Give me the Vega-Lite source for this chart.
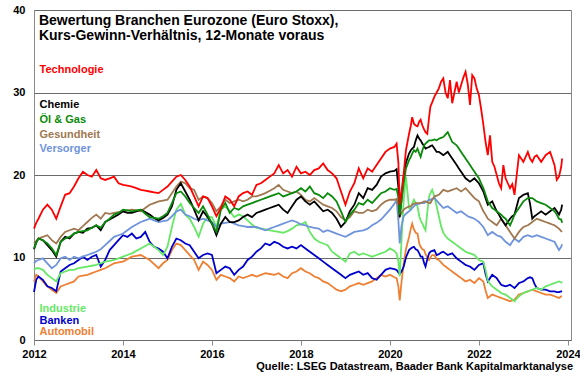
{
  "$schema": "https://vega.github.io/schema/vega-lite/v6.json",
  "width": 537,
  "height": 330,
  "autosize": {"type": "none"},
  "padding": {"left": 34, "top": 10, "right": 9, "bottom": 35},
  "background": "white",
  "config": {
    "font": "Liberation Sans",
    "view": {"stroke": "#8a8a8a", "strokeWidth": 1},
    "axis": {"labelFont": "Liberation Sans"}
  },
  "title": {
    "text": "Quelle: LSEG Datastream, Baader Bank Kapitalmarktanalyse",
    "orient": "bottom",
    "anchor": "end",
    "frame": "group",
    "font": "Liberation Sans",
    "fontSize": 11,
    "fontWeight": "bold",
    "color": "black",
    "offset": 2,
    "dx": 2
  },
  "layer": [
    {
      "data": {
        "values": [
          {"yr": 2012.0, "Technologie": 13.5, "Chemie": 11.0, "Öl & Gas": 11.1, "Gesundheit": 11.7, "Versorger": 9.3, "Industrie": 8.5, "Banken": 5.8, "Automobil": 7.1},
          {"yr": 2012.05, "Technologie": 14.2, "Chemie": 11.8, "Öl & Gas": 11.8, "Gesundheit": 12.0, "Versorger": 9.6, "Industrie": 8.7, "Banken": 7.3, "Automobil": 7.9},
          {"yr": 2012.1, "Technologie": 14.7, "Chemie": 12.3, "Öl & Gas": 12.3, "Gesundheit": 12.3, "Versorger": 9.7, "Industrie": 8.7, "Banken": 7.7, "Automobil": 7.7},
          {"yr": 2012.2, "Technologie": 15.8, "Chemie": 12.1, "Öl & Gas": 12.1, "Gesundheit": 12.5, "Versorger": 9.9, "Industrie": 8.5, "Banken": 7.3, "Automobil": 7.1},
          {"yr": 2012.3, "Technologie": 16.4, "Chemie": 11.5, "Öl & Gas": 11.7, "Gesundheit": 12.7, "Versorger": 9.3, "Industrie": 7.9, "Banken": 6.5, "Automobil": 6.5},
          {"yr": 2012.4, "Technologie": 15.8, "Chemie": 10.9, "Öl & Gas": 11.1, "Gesundheit": 12.1, "Versorger": 8.7, "Industrie": 7.5, "Banken": 6.3, "Automobil": 6.1},
          {"yr": 2012.5, "Technologie": 14.7, "Chemie": 10.1, "Öl & Gas": 10.3, "Gesundheit": 11.7, "Versorger": 9.1, "Industrie": 7.1, "Banken": 5.9, "Automobil": 5.7},
          {"yr": 2012.6, "Technologie": 16.2, "Chemie": 11.9, "Öl & Gas": 11.9, "Gesundheit": 12.5, "Versorger": 9.9, "Industrie": 8.1, "Banken": 8.3, "Automobil": 6.5},
          {"yr": 2012.7, "Technologie": 17.6, "Chemie": 12.5, "Öl & Gas": 12.3, "Gesundheit": 13.1, "Versorger": 10.1, "Industrie": 8.3, "Banken": 8.7, "Automobil": 6.7},
          {"yr": 2012.8, "Technologie": 17.8, "Chemie": 12.3, "Öl & Gas": 12.5, "Gesundheit": 13.3, "Versorger": 9.7, "Industrie": 8.5, "Banken": 9.1, "Automobil": 6.9},
          {"yr": 2012.9, "Technologie": 18.6, "Chemie": 12.9, "Öl & Gas": 12.9, "Gesundheit": 13.5, "Versorger": 10.1, "Industrie": 8.5, "Banken": 9.3, "Automobil": 7.1},
          {"yr": 2013.0, "Technologie": 19.6, "Chemie": 13.1, "Öl & Gas": 13.1, "Gesundheit": 13.3, "Versorger": 9.9, "Industrie": 8.7, "Banken": 9.7, "Automobil": 7.7},
          {"yr": 2013.1, "Technologie": 20.4, "Chemie": 13.0, "Öl & Gas": 13.2, "Gesundheit": 13.8, "Versorger": 10.1, "Industrie": 8.8, "Banken": 10.1, "Automobil": 7.8},
          {"yr": 2013.2, "Technologie": 20.0, "Chemie": 13.5, "Öl & Gas": 13.3, "Gesundheit": 14.3, "Versorger": 10.3, "Industrie": 8.9, "Banken": 9.7, "Automobil": 7.9},
          {"yr": 2013.3, "Technologie": 19.8, "Chemie": 13.6, "Öl & Gas": 13.6, "Gesundheit": 14.8, "Versorger": 10.5, "Industrie": 9.0, "Banken": 10.1, "Automobil": 8.1},
          {"yr": 2013.4, "Technologie": 20.6, "Chemie": 13.9, "Öl & Gas": 13.9, "Gesundheit": 15.2, "Versorger": 10.7, "Industrie": 9.1, "Banken": 10.3, "Automobil": 8.3},
          {"yr": 2013.5, "Technologie": 19.6, "Chemie": 13.3, "Öl & Gas": 13.6, "Gesundheit": 14.7, "Versorger": 11.0, "Industrie": 9.3, "Banken": 8.9, "Automobil": 8.5},
          {"yr": 2013.6, "Technologie": 19.4, "Chemie": 14.3, "Öl & Gas": 14.3, "Gesundheit": 15.4, "Versorger": 11.5, "Industrie": 9.5, "Banken": 9.7, "Automobil": 8.7},
          {"yr": 2013.7, "Technologie": 19.6, "Chemie": 14.6, "Öl & Gas": 14.7, "Gesundheit": 15.3, "Versorger": 12.0, "Industrie": 9.6, "Banken": 10.9, "Automobil": 9.0},
          {"yr": 2013.8, "Technologie": 19.8, "Chemie": 14.9, "Öl & Gas": 15.2, "Gesundheit": 15.4, "Versorger": 12.5, "Industrie": 9.7, "Banken": 11.5, "Automobil": 9.3},
          {"yr": 2013.9, "Technologie": 19.0, "Chemie": 15.2, "Öl & Gas": 15.4, "Gesundheit": 15.5, "Versorger": 12.7, "Industrie": 9.9, "Banken": 12.1, "Automobil": 9.4},
          {"yr": 2014.0, "Technologie": 18.8, "Chemie": 15.6, "Öl & Gas": 15.8, "Gesundheit": 15.6, "Versorger": 12.9, "Industrie": 10.1, "Banken": 12.7, "Automobil": 9.5},
          {"yr": 2014.1, "Technologie": 18.7, "Chemie": 15.4, "Öl & Gas": 15.7, "Gesundheit": 15.7, "Versorger": 13.3, "Industrie": 10.3, "Banken": 12.5, "Automobil": 9.8},
          {"yr": 2014.2, "Technologie": 18.6, "Chemie": 15.4, "Öl & Gas": 15.6, "Gesundheit": 15.8, "Versorger": 13.7, "Industrie": 10.5, "Banken": 12.9, "Automobil": 10.1},
          {"yr": 2014.3, "Technologie": 18.4, "Chemie": 15.6, "Öl & Gas": 15.7, "Gesundheit": 15.7, "Versorger": 14.0, "Industrie": 10.8, "Banken": 12.3, "Automobil": 10.2},
          {"yr": 2014.4, "Technologie": 18.2, "Chemie": 15.8, "Öl & Gas": 15.8, "Gesundheit": 15.6, "Versorger": 14.3, "Industrie": 11.1, "Banken": 12.5, "Automobil": 10.3},
          {"yr": 2014.5, "Technologie": 18.1, "Chemie": 15.5, "Öl & Gas": 15.3, "Gesundheit": 16.0, "Versorger": 14.5, "Industrie": 11.4, "Banken": 13.1, "Automobil": 10.0},
          {"yr": 2014.6, "Technologie": 18.0, "Chemie": 15.2, "Öl & Gas": 14.9, "Gesundheit": 16.4, "Versorger": 14.7, "Industrie": 11.7, "Banken": 11.9, "Automobil": 9.7},
          {"yr": 2014.7, "Technologie": 17.9, "Chemie": 14.8, "Öl & Gas": 14.8, "Gesundheit": 16.6, "Versorger": 14.5, "Industrie": 11.3, "Banken": 11.3, "Automobil": 9.2},
          {"yr": 2014.8, "Technologie": 17.8, "Chemie": 14.5, "Öl & Gas": 14.7, "Gesundheit": 16.8, "Versorger": 14.3, "Industrie": 10.9, "Banken": 11.1, "Automobil": 8.7},
          {"yr": 2014.9, "Technologie": 18.2, "Chemie": 14.8, "Öl & Gas": 15.0, "Gesundheit": 16.9, "Versorger": 14.4, "Industrie": 10.3, "Banken": 10.7, "Automobil": 9.3},
          {"yr": 2015.0, "Technologie": 18.6, "Chemie": 15.2, "Öl & Gas": 15.4, "Gesundheit": 17.0, "Versorger": 14.5, "Industrie": 11.3, "Banken": 9.9, "Automobil": 9.7},
          {"yr": 2015.1, "Technologie": 19.2, "Chemie": 16.2, "Öl & Gas": 16.6, "Gesundheit": 17.8, "Versorger": 15.0, "Industrie": 13.7, "Banken": 11.3, "Automobil": 10.9},
          {"yr": 2015.2, "Technologie": 19.8, "Chemie": 18.2, "Öl & Gas": 17.8, "Gesundheit": 18.6, "Versorger": 15.6, "Industrie": 15.8, "Banken": 12.3, "Automobil": 11.7},
          {"yr": 2015.3, "Technologie": 20.0, "Chemie": 19.0, "Öl & Gas": 18.0, "Gesundheit": 19.2, "Versorger": 15.8, "Industrie": 16.5, "Banken": 12.1, "Automobil": 11.5},
          {"yr": 2015.4, "Technologie": 19.4, "Chemie": 18.0, "Öl & Gas": 17.4, "Gesundheit": 19.0, "Versorger": 15.2, "Industrie": 15.2, "Banken": 11.7, "Automobil": 10.9},
          {"yr": 2015.5, "Technologie": 18.6, "Chemie": 17.0, "Öl & Gas": 16.6, "Gesundheit": 18.4, "Versorger": 15.0, "Industrie": 14.7, "Banken": 11.5, "Automobil": 10.3},
          {"yr": 2015.6, "Technologie": 17.4, "Chemie": 15.8, "Öl & Gas": 16.0, "Gesundheit": 18.2, "Versorger": 14.7, "Industrie": 13.7, "Banken": 10.7, "Automobil": 9.7},
          {"yr": 2015.7, "Technologie": 16.2, "Chemie": 14.5, "Öl & Gas": 15.4, "Gesundheit": 17.0, "Versorger": 14.5, "Industrie": 12.5, "Banken": 9.9, "Automobil": 8.5},
          {"yr": 2015.8, "Technologie": 17.4, "Chemie": 15.6, "Öl & Gas": 16.2, "Gesundheit": 17.4, "Versorger": 14.7, "Industrie": 14.1, "Banken": 10.3, "Automobil": 9.5},
          {"yr": 2015.9, "Technologie": 17.2, "Chemie": 14.9, "Öl & Gas": 15.2, "Gesundheit": 17.2, "Versorger": 14.5, "Industrie": 14.9, "Banken": 10.5, "Automobil": 9.1},
          {"yr": 2016.0, "Technologie": 16.2, "Chemie": 14.1, "Öl & Gas": 14.1, "Gesundheit": 16.6, "Versorger": 14.3, "Industrie": 14.9, "Banken": 10.3, "Automobil": 8.5},
          {"yr": 2016.1, "Technologie": 15.0, "Chemie": 12.7, "Öl & Gas": 13.1, "Gesundheit": 15.6, "Versorger": 13.7, "Industrie": 13.7, "Banken": 8.1, "Automobil": 7.3},
          {"yr": 2016.2, "Technologie": 16.0, "Chemie": 14.1, "Öl & Gas": 15.8, "Gesundheit": 16.2, "Versorger": 14.1, "Industrie": 15.8, "Banken": 8.5, "Automobil": 7.9},
          {"yr": 2016.3, "Technologie": 17.4, "Chemie": 14.9, "Öl & Gas": 16.6, "Gesundheit": 17.0, "Versorger": 14.2, "Industrie": 16.2, "Banken": 8.9, "Automobil": 7.7},
          {"yr": 2016.4, "Technologie": 17.0, "Chemie": 14.3, "Öl & Gas": 15.4, "Gesundheit": 16.6, "Versorger": 14.3, "Industrie": 15.6, "Banken": 8.7, "Automobil": 7.5},
          {"yr": 2016.5, "Technologie": 16.2, "Chemie": 14.3, "Öl & Gas": 16.0, "Gesundheit": 16.8, "Versorger": 14.1, "Industrie": 14.9, "Banken": 7.9, "Automobil": 7.1},
          {"yr": 2016.6, "Technologie": 17.4, "Chemie": 14.5, "Öl & Gas": 15.8, "Gesundheit": 17.0, "Versorger": 13.9, "Industrie": 15.2, "Banken": 8.5, "Automobil": 7.7},
          {"yr": 2016.7, "Technologie": 17.8, "Chemie": 14.9, "Öl & Gas": 16.2, "Gesundheit": 16.8, "Versorger": 13.8, "Industrie": 15.0, "Banken": 8.9, "Automobil": 7.5},
          {"yr": 2016.8, "Technologie": 18.0, "Chemie": 15.2, "Öl & Gas": 16.4, "Gesundheit": 17.0, "Versorger": 13.7, "Industrie": 14.5, "Banken": 9.7, "Automobil": 7.7},
          {"yr": 2016.9, "Technologie": 17.6, "Chemie": 14.9, "Öl & Gas": 16.6, "Gesundheit": 17.4, "Versorger": 13.7, "Industrie": 14.0, "Banken": 10.1, "Automobil": 7.9},
          {"yr": 2017.0, "Technologie": 18.8, "Chemie": 15.4, "Öl & Gas": 16.8, "Gesundheit": 17.4, "Versorger": 13.7, "Industrie": 13.6, "Banken": 10.7, "Automobil": 7.7},
          {"yr": 2017.1, "Technologie": 19.0, "Chemie": 15.6, "Öl & Gas": 17.0, "Gesundheit": 17.6, "Versorger": 13.5, "Industrie": 13.5, "Banken": 11.1, "Automobil": 7.9},
          {"yr": 2017.2, "Technologie": 19.4, "Chemie": 15.8, "Öl & Gas": 17.2, "Gesundheit": 17.8, "Versorger": 13.3, "Industrie": 13.4, "Banken": 11.7, "Automobil": 8.1},
          {"yr": 2017.3, "Technologie": 19.8, "Chemie": 16.0, "Öl & Gas": 17.4, "Gesundheit": 18.1, "Versorger": 13.5, "Industrie": 13.3, "Banken": 11.5, "Automobil": 8.0},
          {"yr": 2017.4, "Technologie": 20.2, "Chemie": 16.2, "Öl & Gas": 17.6, "Gesundheit": 18.4, "Versorger": 13.7, "Industrie": 13.2, "Banken": 11.9, "Automobil": 7.9},
          {"yr": 2017.5, "Technologie": 21.2, "Chemie": 16.4, "Öl & Gas": 17.8, "Gesundheit": 18.8, "Versorger": 13.9, "Industrie": 13.1, "Banken": 11.7, "Automobil": 8.1},
          {"yr": 2017.6, "Technologie": 20.2, "Chemie": 15.8, "Öl & Gas": 17.4, "Gesundheit": 18.2, "Versorger": 14.1, "Industrie": 13.0, "Banken": 11.3, "Automobil": 7.7},
          {"yr": 2017.7, "Technologie": 20.6, "Chemie": 15.4, "Öl & Gas": 17.6, "Gesundheit": 18.0, "Versorger": 14.3, "Industrie": 13.2, "Banken": 11.1, "Automobil": 7.5},
          {"yr": 2017.8, "Technologie": 19.8, "Chemie": 16.2, "Öl & Gas": 17.8, "Gesundheit": 17.8, "Versorger": 14.5, "Industrie": 13.5, "Banken": 11.3, "Automobil": 8.1},
          {"yr": 2017.9, "Technologie": 21.0, "Chemie": 17.0, "Öl & Gas": 18.0, "Gesundheit": 18.0, "Versorger": 14.3, "Industrie": 13.9, "Banken": 11.1, "Automobil": 8.3},
          {"yr": 2018.0, "Technologie": 20.2, "Chemie": 17.4, "Öl & Gas": 18.4, "Gesundheit": 17.6, "Versorger": 14.0, "Industrie": 14.0, "Banken": 11.5, "Automobil": 8.7},
          {"yr": 2018.1, "Technologie": 20.4, "Chemie": 16.8, "Öl & Gas": 18.0, "Gesundheit": 17.0, "Versorger": 13.9, "Industrie": 14.3, "Banken": 11.1, "Automobil": 8.3},
          {"yr": 2018.2, "Technologie": 20.0, "Chemie": 16.4, "Öl & Gas": 18.6, "Gesundheit": 16.8, "Versorger": 13.7, "Industrie": 13.1, "Banken": 10.7, "Automobil": 8.1},
          {"yr": 2018.3, "Technologie": 20.6, "Chemie": 16.8, "Öl & Gas": 17.8, "Gesundheit": 17.2, "Versorger": 13.6, "Industrie": 12.3, "Banken": 10.3, "Automobil": 7.7},
          {"yr": 2018.4, "Technologie": 20.8, "Chemie": 16.2, "Öl & Gas": 17.6, "Gesundheit": 16.8, "Versorger": 13.5, "Industrie": 11.9, "Banken": 9.9, "Automobil": 7.5},
          {"yr": 2018.5, "Technologie": 21.4, "Chemie": 15.6, "Öl & Gas": 17.2, "Gesundheit": 16.4, "Versorger": 13.1, "Industrie": 11.7, "Banken": 9.5, "Automobil": 7.1},
          {"yr": 2018.6, "Technologie": 20.6, "Chemie": 15.8, "Öl & Gas": 17.8, "Gesundheit": 16.2, "Versorger": 13.3, "Industrie": 11.5, "Banken": 9.1, "Automobil": 6.9},
          {"yr": 2018.7, "Technologie": 20.2, "Chemie": 15.4, "Öl & Gas": 17.4, "Gesundheit": 16.0, "Versorger": 13.1, "Industrie": 10.7, "Banken": 8.7, "Automobil": 6.5},
          {"yr": 2018.8, "Technologie": 19.6, "Chemie": 14.7, "Öl & Gas": 16.8, "Gesundheit": 15.6, "Versorger": 12.9, "Industrie": 10.3, "Banken": 8.3, "Automobil": 6.1},
          {"yr": 2018.9, "Technologie": 18.0, "Chemie": 13.7, "Öl & Gas": 15.6, "Gesundheit": 14.9, "Versorger": 12.7, "Industrie": 9.9, "Banken": 7.9, "Automobil": 5.9},
          {"yr": 2019.0, "Technologie": 16.4, "Chemie": 14.3, "Öl & Gas": 14.3, "Gesundheit": 14.5, "Versorger": 12.5, "Industrie": 9.5, "Banken": 7.5, "Automobil": 6.1},
          {"yr": 2019.1, "Technologie": 18.0, "Chemie": 15.6, "Öl & Gas": 15.2, "Gesundheit": 14.9, "Versorger": 12.8, "Industrie": 10.5, "Banken": 7.9, "Automobil": 6.5},
          {"yr": 2019.2, "Technologie": 19.0, "Chemie": 16.4, "Öl & Gas": 15.8, "Gesundheit": 15.6, "Versorger": 13.1, "Industrie": 10.7, "Banken": 8.1, "Automobil": 6.7},
          {"yr": 2019.3, "Technologie": 20.8, "Chemie": 17.8, "Öl & Gas": 16.6, "Gesundheit": 15.4, "Versorger": 13.2, "Industrie": 10.3, "Banken": 8.3, "Automobil": 6.9},
          {"yr": 2019.4, "Technologie": 19.6, "Chemie": 17.2, "Öl & Gas": 16.4, "Gesundheit": 15.4, "Versorger": 13.3, "Industrie": 10.5, "Banken": 7.9, "Automobil": 6.7},
          {"yr": 2019.5, "Technologie": 20.8, "Chemie": 18.4, "Öl & Gas": 17.0, "Gesundheit": 15.8, "Versorger": 13.5, "Industrie": 10.3, "Banken": 8.1, "Automobil": 6.9},
          {"yr": 2019.6, "Technologie": 20.4, "Chemie": 18.2, "Öl & Gas": 16.6, "Gesundheit": 15.6, "Versorger": 13.9, "Industrie": 10.1, "Banken": 7.5, "Automobil": 7.1},
          {"yr": 2019.7, "Technologie": 21.2, "Chemie": 18.8, "Öl & Gas": 17.2, "Gesundheit": 15.8, "Versorger": 14.2, "Industrie": 10.3, "Banken": 7.3, "Automobil": 7.5},
          {"yr": 2019.8, "Technologie": 22.0, "Chemie": 19.8, "Öl & Gas": 17.8, "Gesundheit": 16.4, "Versorger": 14.6, "Industrie": 10.5, "Banken": 7.9, "Automobil": 7.9},
          {"yr": 2019.9, "Technologie": 22.8, "Chemie": 20.2, "Öl & Gas": 18.0, "Gesundheit": 16.8, "Versorger": 15.2, "Industrie": 10.7, "Banken": 8.5, "Automobil": 7.7},
          {"yr": 2020.0, "Technologie": 23.2, "Chemie": 20.4, "Öl & Gas": 18.4, "Gesundheit": 17.0, "Versorger": 15.8, "Industrie": 11.1, "Banken": 8.7, "Automobil": 7.9},
          {"yr": 2020.1, "Technologie": 23.4, "Chemie": 20.5, "Öl & Gas": 18.2, "Gesundheit": 17.0, "Versorger": 16.5, "Industrie": 10.8, "Banken": 8.6, "Automobil": 7.6},
          {"yr": 2020.15, "Technologie": 23.8, "Chemie": 20.7, "Öl & Gas": 18.3, "Gesundheit": 17.1, "Versorger": 17.0, "Industrie": 10.5, "Banken": 8.5, "Automobil": 7.5},
          {"yr": 2020.19, "Technologie": 21.5, "Chemie": 18.5, "Öl & Gas": 17.3, "Gesundheit": 16.3, "Versorger": 14.5, "Industrie": 9.5, "Banken": 8.2, "Automobil": 6.5},
          {"yr": 2020.22, "Technologie": 16.4, "Chemie": 14.9, "Öl & Gas": 15.2, "Gesundheit": 15.0, "Versorger": 11.7, "Industrie": 7.7, "Banken": 8.0, "Automobil": 4.8},
          {"yr": 2020.26, "Technologie": 18.0, "Chemie": 17.0, "Öl & Gas": 16.8, "Gesundheit": 15.4, "Versorger": 13.8, "Industrie": 12.0, "Banken": 8.3, "Automobil": 7.0},
          {"yr": 2020.31, "Technologie": 20.2, "Chemie": 19.8, "Öl & Gas": 19.0, "Gesundheit": 15.8, "Versorger": 15.0, "Industrie": 17.0, "Banken": 8.9, "Automobil": 9.3},
          {"yr": 2020.36, "Technologie": 23.0, "Chemie": 21.5, "Öl & Gas": 20.8, "Gesundheit": 16.0, "Versorger": 15.3, "Industrie": 19.8, "Banken": 10.0, "Automobil": 11.0},
          {"yr": 2020.43, "Technologie": 25.0, "Chemie": 22.6, "Öl & Gas": 21.8, "Gesundheit": 16.2, "Versorger": 15.6, "Industrie": 16.0, "Banken": 10.9, "Automobil": 12.5},
          {"yr": 2020.47, "Technologie": 26.0, "Chemie": 23.0, "Öl & Gas": 22.2, "Gesundheit": 16.2, "Versorger": 15.8, "Industrie": 15.8, "Banken": 11.1, "Automobil": 13.5},
          {"yr": 2020.5, "Technologie": 27.0, "Chemie": 23.2, "Öl & Gas": 22.6, "Gesundheit": 16.4, "Versorger": 16.0, "Industrie": 16.5, "Banken": 11.2, "Automobil": 14.1},
          {"yr": 2020.54, "Technologie": 26.2, "Chemie": 23.4, "Öl & Gas": 23.0, "Gesundheit": 16.5, "Versorger": 16.2, "Industrie": 17.0, "Banken": 11.3, "Automobil": 13.4},
          {"yr": 2020.58, "Technologie": 26.0, "Chemie": 24.2, "Öl & Gas": 22.8, "Gesundheit": 16.6, "Versorger": 16.4, "Industrie": 16.6, "Banken": 11.0, "Automobil": 13.0},
          {"yr": 2020.62, "Technologie": 25.9, "Chemie": 24.8, "Öl & Gas": 23.2, "Gesundheit": 16.6, "Versorger": 16.5, "Industrie": 16.2, "Banken": 10.9, "Automobil": 12.9},
          {"yr": 2020.66, "Technologie": 26.5, "Chemie": 24.4, "Öl & Gas": 22.6, "Gesundheit": 16.6, "Versorger": 16.5, "Industrie": 15.0, "Banken": 10.5, "Automobil": 11.7},
          {"yr": 2020.69, "Technologie": 26.7, "Chemie": 24.2, "Öl & Gas": 22.2, "Gesundheit": 16.6, "Versorger": 16.6, "Industrie": 14.5, "Banken": 10.1, "Automobil": 11.3},
          {"yr": 2020.73, "Technologie": 26.0, "Chemie": 23.8, "Öl & Gas": 23.0, "Gesundheit": 16.7, "Versorger": 16.6, "Industrie": 14.1, "Banken": 10.1, "Automobil": 11.0},
          {"yr": 2020.77, "Technologie": 25.5, "Chemie": 23.5, "Öl & Gas": 23.6, "Gesundheit": 16.8, "Versorger": 16.6, "Industrie": 13.6, "Banken": 9.3, "Automobil": 10.9},
          {"yr": 2020.8, "Technologie": 25.2, "Chemie": 23.2, "Öl & Gas": 23.8, "Gesundheit": 16.8, "Versorger": 16.7, "Industrie": 13.3, "Banken": 8.9, "Automobil": 10.4},
          {"yr": 2020.84, "Technologie": 25.0, "Chemie": 23.3, "Öl & Gas": 24.0, "Gesundheit": 16.7, "Versorger": 16.8, "Industrie": 15.5, "Banken": 9.8, "Automobil": 10.0},
          {"yr": 2020.88, "Technologie": 27.0, "Chemie": 23.4, "Öl & Gas": 24.2, "Gesundheit": 16.6, "Versorger": 17.0, "Industrie": 17.4, "Banken": 10.5, "Automobil": 9.7},
          {"yr": 2020.91, "Technologie": 28.3, "Chemie": 23.5, "Öl & Gas": 24.2, "Gesundheit": 16.6, "Versorger": 17.0, "Industrie": 17.8, "Banken": 10.7, "Automobil": 10.0},
          {"yr": 2020.95, "Technologie": 28.8, "Chemie": 23.6, "Öl & Gas": 24.2, "Gesundheit": 17.0, "Versorger": 17.1, "Industrie": 18.2, "Banken": 10.8, "Automobil": 10.3},
          {"yr": 2021.0, "Technologie": 29.5, "Chemie": 23.2, "Öl & Gas": 24.3, "Gesundheit": 17.4, "Versorger": 17.2, "Industrie": 17.4, "Banken": 10.9, "Automobil": 10.3},
          {"yr": 2021.05, "Technologie": 30.0, "Chemie": 22.8, "Öl & Gas": 24.2, "Gesundheit": 17.5, "Versorger": 16.9, "Industrie": 16.2, "Banken": 10.3, "Automobil": 9.8},
          {"yr": 2021.1, "Technologie": 30.5, "Chemie": 22.8, "Öl & Gas": 24.4, "Gesundheit": 17.6, "Versorger": 16.6, "Industrie": 15.0, "Banken": 10.4, "Automobil": 9.7},
          {"yr": 2021.15, "Technologie": 31.3, "Chemie": 22.6, "Öl & Gas": 24.5, "Gesundheit": 17.9, "Versorger": 16.3, "Industrie": 13.8, "Banken": 10.6, "Automobil": 9.4},
          {"yr": 2021.2, "Technologie": 31.7, "Chemie": 22.4, "Öl & Gas": 24.6, "Gesundheit": 18.2, "Versorger": 16.0, "Industrie": 13.0, "Banken": 10.7, "Automobil": 9.1},
          {"yr": 2021.25, "Technologie": 30.0, "Chemie": 22.6, "Öl & Gas": 24.9, "Gesundheit": 18.1, "Versorger": 16.1, "Industrie": 12.6, "Banken": 10.5, "Automobil": 8.9},
          {"yr": 2021.3, "Technologie": 29.3, "Chemie": 22.8, "Öl & Gas": 25.2, "Gesundheit": 18.0, "Versorger": 16.2, "Industrie": 12.3, "Banken": 10.3, "Automobil": 8.7},
          {"yr": 2021.35, "Technologie": 31.5, "Chemie": 22.4, "Öl & Gas": 24.6, "Gesundheit": 18.1, "Versorger": 16.0, "Industrie": 12.1, "Banken": 10.4, "Automobil": 8.5},
          {"yr": 2021.4, "Technologie": 28.7, "Chemie": 22.0, "Öl & Gas": 24.0, "Gesundheit": 18.2, "Versorger": 15.8, "Industrie": 11.9, "Banken": 10.5, "Automobil": 8.3},
          {"yr": 2021.45, "Technologie": 30.0, "Chemie": 21.6, "Öl & Gas": 23.8, "Gesundheit": 18.3, "Versorger": 15.6, "Industrie": 11.7, "Banken": 10.2, "Automobil": 8.1},
          {"yr": 2021.5, "Technologie": 31.3, "Chemie": 21.2, "Öl & Gas": 23.6, "Gesundheit": 18.4, "Versorger": 15.4, "Industrie": 11.5, "Banken": 9.9, "Automobil": 7.9},
          {"yr": 2021.55, "Technologie": 30.0, "Chemie": 20.8, "Öl & Gas": 23.2, "Gesundheit": 18.2, "Versorger": 15.5, "Industrie": 11.3, "Banken": 9.7, "Automobil": 7.7},
          {"yr": 2021.6, "Technologie": 30.9, "Chemie": 20.4, "Öl & Gas": 22.8, "Gesundheit": 18.0, "Versorger": 15.6, "Industrie": 11.1, "Banken": 9.5, "Automobil": 7.5},
          {"yr": 2021.65, "Technologie": 31.8, "Chemie": 20.0, "Öl & Gas": 22.4, "Gesundheit": 18.2, "Versorger": 15.4, "Industrie": 10.9, "Banken": 9.3, "Automobil": 7.3},
          {"yr": 2021.7, "Technologie": 32.5, "Chemie": 19.6, "Öl & Gas": 22.0, "Gesundheit": 18.4, "Versorger": 15.2, "Industrie": 10.7, "Banken": 9.1, "Automobil": 7.1},
          {"yr": 2021.75, "Technologie": 31.0, "Chemie": 19.4, "Öl & Gas": 21.6, "Gesundheit": 18.1, "Versorger": 15.0, "Industrie": 10.6, "Banken": 9.0, "Automobil": 7.2},
          {"yr": 2021.8, "Technologie": 28.5, "Chemie": 19.2, "Öl & Gas": 21.2, "Gesundheit": 17.8, "Versorger": 14.9, "Industrie": 10.5, "Banken": 8.9, "Automobil": 7.3},
          {"yr": 2021.85, "Technologie": 32.1, "Chemie": 19.4, "Öl & Gas": 20.8, "Gesundheit": 17.5, "Versorger": 14.8, "Industrie": 10.4, "Banken": 8.7, "Automobil": 7.1},
          {"yr": 2021.9, "Technologie": 31.7, "Chemie": 19.6, "Öl & Gas": 20.4, "Gesundheit": 17.2, "Versorger": 14.7, "Industrie": 10.3, "Banken": 8.5, "Automobil": 6.9},
          {"yr": 2021.95, "Technologie": 30.5, "Chemie": 19.3, "Öl & Gas": 20.0, "Gesundheit": 17.0, "Versorger": 14.5, "Industrie": 10.0, "Banken": 8.8, "Automobil": 7.2},
          {"yr": 2022.0, "Technologie": 29.7, "Chemie": 19.0, "Öl & Gas": 19.6, "Gesundheit": 16.8, "Versorger": 14.3, "Industrie": 9.7, "Banken": 9.1, "Automobil": 7.5},
          {"yr": 2022.05, "Technologie": 28.0, "Chemie": 18.5, "Öl & Gas": 19.0, "Gesundheit": 16.2, "Versorger": 14.0, "Industrie": 9.6, "Banken": 9.2, "Automobil": 7.3},
          {"yr": 2022.1, "Technologie": 26.1, "Chemie": 18.0, "Öl & Gas": 18.4, "Gesundheit": 15.6, "Versorger": 13.7, "Industrie": 9.5, "Banken": 9.3, "Automobil": 7.1},
          {"yr": 2022.15, "Technologie": 24.0, "Chemie": 17.2, "Öl & Gas": 17.6, "Gesundheit": 15.2, "Versorger": 13.2, "Industrie": 8.5, "Banken": 8.0, "Automobil": 6.0},
          {"yr": 2022.2, "Technologie": 22.4, "Chemie": 16.4, "Öl & Gas": 16.8, "Gesundheit": 14.7, "Versorger": 12.7, "Industrie": 7.2, "Banken": 7.1, "Automobil": 5.1},
          {"yr": 2022.25, "Technologie": 24.8, "Chemie": 16.6, "Öl & Gas": 16.4, "Gesundheit": 14.5, "Versorger": 12.9, "Industrie": 6.8, "Banken": 7.5, "Automobil": 5.3},
          {"yr": 2022.3, "Technologie": 21.6, "Chemie": 16.8, "Öl & Gas": 16.0, "Gesundheit": 14.3, "Versorger": 13.1, "Industrie": 6.5, "Banken": 7.9, "Automobil": 5.5},
          {"yr": 2022.35, "Technologie": 21.0, "Chemie": 16.2, "Öl & Gas": 15.8, "Gesundheit": 14.1, "Versorger": 12.9, "Industrie": 6.3, "Banken": 7.7, "Automobil": 5.4},
          {"yr": 2022.4, "Technologie": 20.0, "Chemie": 15.6, "Öl & Gas": 15.6, "Gesundheit": 13.9, "Versorger": 12.7, "Industrie": 6.1, "Banken": 7.5, "Automobil": 5.3},
          {"yr": 2022.45, "Technologie": 19.0, "Chemie": 15.2, "Öl & Gas": 15.4, "Gesundheit": 14.3, "Versorger": 12.6, "Industrie": 5.9, "Banken": 7.1, "Automobil": 5.2},
          {"yr": 2022.5, "Technologie": 18.4, "Chemie": 14.7, "Öl & Gas": 15.2, "Gesundheit": 14.7, "Versorger": 12.5, "Industrie": 5.7, "Banken": 6.7, "Automobil": 5.1},
          {"yr": 2022.55, "Technologie": 21.2, "Chemie": 14.3, "Öl & Gas": 14.9, "Gesundheit": 14.3, "Versorger": 12.2, "Industrie": 5.6, "Banken": 6.6, "Automobil": 5.0},
          {"yr": 2022.6, "Technologie": 19.6, "Chemie": 13.9, "Öl & Gas": 14.7, "Gesundheit": 13.9, "Versorger": 11.9, "Industrie": 5.5, "Banken": 6.5, "Automobil": 4.9},
          {"yr": 2022.65, "Technologie": 19.0, "Chemie": 14.3, "Öl & Gas": 14.3, "Gesundheit": 13.5, "Versorger": 11.7, "Industrie": 5.3, "Banken": 6.6, "Automobil": 4.8},
          {"yr": 2022.7, "Technologie": 18.4, "Chemie": 14.7, "Öl & Gas": 13.9, "Gesundheit": 13.1, "Versorger": 11.5, "Industrie": 5.1, "Banken": 6.7, "Automobil": 4.7},
          {"yr": 2022.75, "Technologie": 18.9, "Chemie": 15.0, "Öl & Gas": 14.5, "Gesundheit": 12.7, "Versorger": 11.9, "Industrie": 4.9, "Banken": 6.5, "Automobil": 4.8},
          {"yr": 2022.8, "Technologie": 17.6, "Chemie": 15.2, "Öl & Gas": 15.2, "Gesundheit": 12.3, "Versorger": 12.3, "Industrie": 4.7, "Banken": 6.3, "Automobil": 4.9},
          {"yr": 2022.85, "Technologie": 20.0, "Chemie": 16.2, "Öl & Gas": 15.6, "Gesundheit": 12.7, "Versorger": 12.1, "Industrie": 5.0, "Banken": 6.6, "Automobil": 5.2},
          {"yr": 2022.9, "Technologie": 22.4, "Chemie": 17.2, "Öl & Gas": 16.0, "Gesundheit": 13.1, "Versorger": 11.9, "Industrie": 5.3, "Banken": 6.9, "Automobil": 5.5},
          {"yr": 2022.95, "Technologie": 22.0, "Chemie": 17.4, "Öl & Gas": 16.4, "Gesundheit": 13.4, "Versorger": 12.2, "Industrie": 5.5, "Banken": 7.0, "Automobil": 5.6},
          {"yr": 2023.0, "Technologie": 21.6, "Chemie": 17.6, "Öl & Gas": 16.8, "Gesundheit": 13.7, "Versorger": 12.5, "Industrie": 5.7, "Banken": 7.1, "Automobil": 5.7},
          {"yr": 2023.1, "Technologie": 22.8, "Chemie": 17.8, "Öl & Gas": 17.2, "Gesundheit": 13.9, "Versorger": 12.7, "Industrie": 5.9, "Banken": 7.5, "Automobil": 5.9},
          {"yr": 2023.15, "Technologie": 22.0, "Chemie": 16.5, "Öl & Gas": 17.2, "Gesundheit": 14.1, "Versorger": 12.6, "Industrie": 6.0, "Banken": 7.6, "Automobil": 6.0},
          {"yr": 2023.2, "Technologie": 21.6, "Chemie": 14.7, "Öl & Gas": 17.2, "Gesundheit": 14.3, "Versorger": 12.5, "Industrie": 6.1, "Banken": 7.5, "Automobil": 6.1},
          {"yr": 2023.25, "Technologie": 22.2, "Chemie": 15.0, "Öl & Gas": 17.0, "Gesundheit": 14.5, "Versorger": 12.6, "Industrie": 6.2, "Banken": 6.8, "Automobil": 6.0},
          {"yr": 2023.3, "Technologie": 22.4, "Chemie": 15.2, "Öl & Gas": 16.8, "Gesundheit": 14.7, "Versorger": 12.7, "Industrie": 6.3, "Banken": 6.3, "Automobil": 5.9},
          {"yr": 2023.4, "Technologie": 21.6, "Chemie": 15.6, "Öl & Gas": 16.6, "Gesundheit": 14.5, "Versorger": 12.5, "Industrie": 6.1, "Banken": 6.1, "Automobil": 5.7},
          {"yr": 2023.5, "Technologie": 22.4, "Chemie": 15.2, "Öl & Gas": 16.4, "Gesundheit": 14.3, "Versorger": 12.3, "Industrie": 6.5, "Banken": 6.1, "Automobil": 5.5},
          {"yr": 2023.6, "Technologie": 22.8, "Chemie": 15.6, "Öl & Gas": 16.0, "Gesundheit": 14.1, "Versorger": 12.1, "Industrie": 6.7, "Banken": 5.9, "Automobil": 5.5},
          {"yr": 2023.65, "Technologie": 22.0, "Chemie": 15.8, "Öl & Gas": 15.8, "Gesundheit": 14.0, "Versorger": 12.0, "Industrie": 6.8, "Banken": 5.9, "Automobil": 5.4},
          {"yr": 2023.7, "Technologie": 21.2, "Chemie": 16.0, "Öl & Gas": 15.6, "Gesundheit": 13.9, "Versorger": 11.9, "Industrie": 6.9, "Banken": 5.9, "Automobil": 5.3},
          {"yr": 2023.75, "Technologie": 19.4, "Chemie": 15.6, "Öl & Gas": 15.2, "Gesundheit": 13.7, "Versorger": 11.4, "Industrie": 7.0, "Banken": 5.8, "Automobil": 5.2},
          {"yr": 2023.8, "Technologie": 19.8, "Chemie": 15.2, "Öl & Gas": 14.7, "Gesundheit": 13.5, "Versorger": 10.9, "Industrie": 7.1, "Banken": 5.8, "Automobil": 5.1},
          {"yr": 2023.85, "Technologie": 21.0, "Chemie": 15.8, "Öl & Gas": 14.6, "Gesundheit": 13.2, "Versorger": 11.3, "Industrie": 7.0, "Banken": 5.9, "Automobil": 5.3},
          {"yr": 2023.87, "Technologie": 22.0, "Chemie": 16.4, "Öl & Gas": 14.2, "Gesundheit": 13.1, "Versorger": 11.6, "Industrie": 6.9, "Banken": 5.9, "Automobil": 5.3}
        ]
      },
      "transform": [
        {"fold": ["Automobil", "Banken", "Industrie", "Versorger", "Gesundheit", "Chemie", "Öl & Gas", "Technologie"], "as": ["s", "v"]}
      ],
      "mark": {"type": "line", "strokeWidth": 1.8, "interpolate": "linear"},
      "encoding": {
        "x": {
          "field": "yr", "type": "quantitative",
          "scale": {"domain": [2012, 2024.07], "nice": false, "zero": false},
          "axis": {
            "title": null, "values": [2012, 2014, 2016, 2018, 2020, 2022, 2024], "format": "d",
            "domain": false, "grid": false, "ticks": true, "tickSize": 5, "tickColor": "#8a8a8a",
            "labelFontSize": 11, "labelFontWeight": "bold", "labelColor": "black", "labelPadding": 3, "labelFlush": false
          }
        },
        "y": {
          "field": "v", "type": "quantitative",
          "scale": {"domain": [0, 40], "nice": false, "zero": true},
          "axis": {
            "title": null, "values": [0, 10, 20, 30, 40], "domain": false, "ticks": false,
            "grid": true, "gridColor": "#6a6a6a", "gridWidth": 1, "gridOpacity": 1,
            "labelFontSize": 11, "labelFontWeight": "bold", "labelColor": "black", "labelPadding": 9
          }
        },
        "color": {
          "field": "s", "type": "nominal", "legend": null,
          "scale": {
            "domain": ["Technologie", "Chemie", "Öl & Gas", "Gesundheit", "Versorger", "Industrie", "Banken", "Automobil"],
            "range": ["#ff0000", "#000000", "#0a8a0a", "#a07850", "#6f94dc", "#66e866", "#0000cc", "#ee8033"]
          }
        }
      }
    },
    {
      "data": {
        "values": [
          {"s": "Technologie", "yr": 2012.125, "v": 32.36},
          {"s": "Chemie", "yr": 2012.125, "v": 28.08},
          {"s": "Öl & Gas", "yr": 2012.125, "v": 26.27},
          {"s": "Gesundheit", "yr": 2012.125, "v": 24.52},
          {"s": "Versorger", "yr": 2012.125, "v": 22.82},
          {"s": "Industrie", "yr": 2012.125, "v": 3.39},
          {"s": "Banken", "yr": 2012.125, "v": 1.88},
          {"s": "Automobil", "yr": 2012.125, "v": 0.61}
        ]
      },
      "mark": {"type": "text", "align": "left", "baseline": "alphabetic", "fontSize": 11, "fontWeight": "bold", "font": "Liberation Sans"},
      "encoding": {
        "x": {"field": "yr", "type": "quantitative"},
        "y": {"field": "v", "type": "quantitative"},
        "text": {"field": "s"},
        "color": {"field": "s", "type": "nominal", "legend": null}
      }
    },
    {
      "data": {
        "values": [
          {"t": "Bewertung Branchen Eurozone (Euro Stoxx),", "yr": 2012.11, "v": 38.18},
          {"t": "Kurs-Gewinn-Verhältnis, 12-Monate voraus", "yr": 2012.11, "v": 36.42}
        ]
      },
      "mark": {"type": "text", "align": "left", "baseline": "alphabetic", "fontSize": 14, "fontWeight": "bold", "font": "Liberation Sans", "color": "black"},
      "encoding": {
        "x": {"field": "yr", "type": "quantitative"},
        "y": {"field": "v", "type": "quantitative"},
        "text": {"field": "t"}
      }
    }
  ]
}
